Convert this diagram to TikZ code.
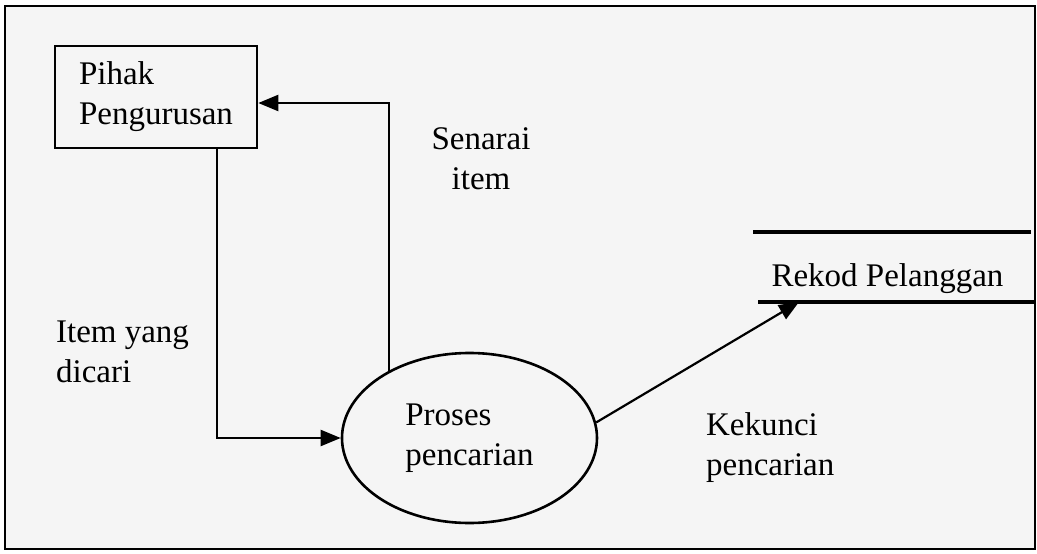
\documentclass[tikz,border=0pt]{standalone}
\usepackage{fontspec}
\setmainfont{Liberation Serif}
\usetikzlibrary{arrows.meta}
\usetikzlibrary{shapes.geometric}

\begin{document}
\begin{tikzpicture}[x=1pt,y=-1pt,>={Triangle[length=20pt,width=16pt]},line width=2.2pt,font=\fontsize{33}{40}\selectfont]
  \useasboundingbox (0,0) rectangle (1037,554);
  \draw[fill=black!4,line width=2.8pt] (5,6) rectangle (1035,549);

  \node[shape=rectangle,draw,line width=2.6pt,minimum width=202pt,minimum height=102pt,align=left] (P) at (156,97)     {Pihak\\Pengurusan};
  \node[shape=ellipse,draw,line width=2.6pt,minimum width=255pt,minimum height=170pt,align=left,inner sep=0pt] (S) at (469.5,438) {Proses\\pencarian};
  \node                                                                                      (R) at (887.5,279)  {Rekod Pelanggan};

  % data store
  \draw[line width=4.5pt] (753,232) -- (1031,232);
  \draw[line width=4.5pt] (758,302) -- (1035,302);
  \coordinate (T) at (799,302);

  \node[align=center]                      (L1) at (481,159) {Senarai\\item};
  \node[align=left,anchor=west,inner sep=0pt] (L2) at (55,352)  {Item yang\\dicari};
  \node[align=left,anchor=west,inner sep=0pt] (L3) at (705,448) {Kekunci\\pencarian};

  \draw[->] (S.140) |- ([yshift=-6pt]P.east);
  \draw[->] ([xshift=61pt]P.south) |- (S.west);
  \draw[->] (S.7) -- (T);
\end{tikzpicture}
\end{document}
